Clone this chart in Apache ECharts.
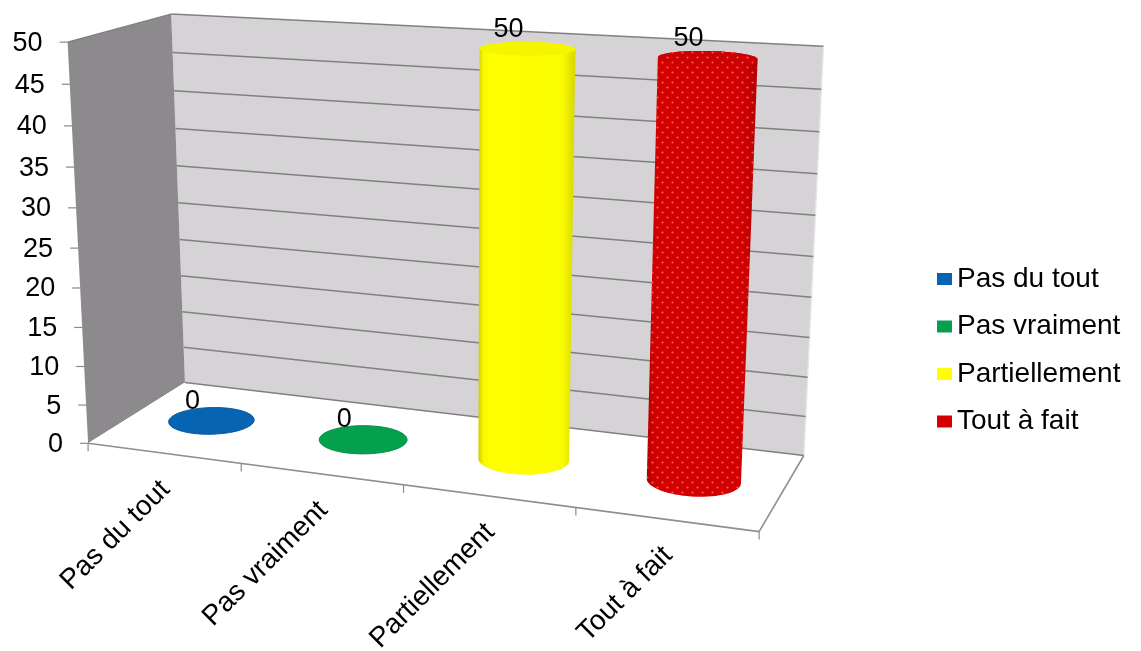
<!DOCTYPE html>
<html>
<head>
<meta charset="utf-8">
<script src="https://cdn.jsdelivr.net/npm/echarts@6/dist/echarts.min.js"></script>
<style>
  html, body { margin: 0; padding: 0; background: #ffffff; }
  #chart { width: 1141px; height: 651px; }
</style>
</head>
<body>
<div id="chart"></div>
<script>
// ---- data ----
const categories = ['Pas du tout', 'Pas vraiment', 'Partiellement', 'Tout à fait'];
const values = [0, 0, 50, 50];
const valueTicks = [0, 5, 10, 15, 20, 25, 30, 35, 40, 45, 50];

// ---- styles ----
const barColors = ['#0764b2', '#04a04e', '#ffff00', '#d40000'];
const barDotted = [false, false, false, true];
const FONT = '"Liberation Sans", Arial, sans-serif';

// Screen anchors of the 3-D plot box:
// [x (0..1 along categories), y (0..1 along values), z (0 front .. 1 back), screenX, screenY]
const boxAnchors = [
  [0, 1, 0, 67.5, 42.5],
  [0, 0, 0, 88, 442.5],
  [0, 1, 1, 171.5, 13.5],
  [0, 0, 1, 185, 383],
  [1, 1, 1, 823.5, 46],
  [1, 0, 1, 804, 455],
  [1, 0, 0, 759, 532],
  [0.25, 0, 0, 241, 463.3],
  [0.5, 0, 0, 404, 484.9],
  [0.75, 0, 0, 576, 507.7],
  [0, 0.5, 0, 78, 248],
  [0, 0.8, 0, 72, 126],
  [1, 0.5, 1, 813, 256.7],
  [0, 0.5, 1, 178, 203.3]
];

// cylinder geometry: centre depth, radius as share of a category band, radius in depth units
const CYL = { zc: 0.5, rx: 0.262, rz: 0.2 };

// ---- perspective camera fitted to the box anchors ----
function solve(A, b) {
  const n = b.length;
  for (let c = 0; c < n; c++) {
    let piv = c;
    for (let r = c + 1; r < n; r++) if (Math.abs(A[r][c]) > Math.abs(A[piv][c])) piv = r;
    [A[c], A[piv]] = [A[piv], A[c]];
    [b[c], b[piv]] = [b[piv], b[c]];
    for (let r = c + 1; r < n; r++) {
      const f = A[r][c] / A[c][c];
      for (let k = c; k < n; k++) A[r][k] -= f * A[c][k];
      b[r] -= f * b[c];
    }
  }
  const x = new Array(n).fill(0);
  for (let r = n - 1; r >= 0; r--) {
    let s = b[r];
    for (let k = r + 1; k < n; k++) s -= A[r][k] * x[k];
    x[r] = s / A[r][r];
  }
  return x;
}
function fitCamera(pts) {
  const n = 11, S = 1000;
  const M = [], rhs = [];
  for (let i = 0; i < n; i++) { M.push(new Array(n).fill(0)); rhs.push(0); }
  pts.forEach(([X, Y, Z, u, v]) => {
    u /= S; v /= S;
    const rows = [
      [[X, Y, Z, 1, 0, 0, 0, 0, -u * X, -u * Y, -u * Z], u],
      [[0, 0, 0, 0, X, Y, Z, 1, -v * X, -v * Y, -v * Z], v]
    ];
    rows.forEach(([a, b]) => {
      for (let i = 0; i < n; i++) {
        for (let j = 0; j < n; j++) M[i][j] += a[i] * a[j];
        rhs[i] += a[i] * b;
      }
    });
  });
  const p = solve(M, rhs);
  return function (X, Y, Z) {
    const w = p[8] * X + p[9] * Y + p[10] * Z + 1;
    return [S * (p[0] * X + p[1] * Y + p[2] * Z + p[3]) / w,
            S * (p[4] * X + p[5] * Y + p[6] * Z + p[7]) / w];
  };
}
const P = fitCamera(boxAnchors);

// grid pixel -> normalised box coordinates
function toBox(params, pt) {
  const cs = params.coordSys;
  return [(pt[0] - cs.x) / cs.width, (cs.y + cs.height - pt[1]) / cs.height];
}

function convexHull(points) {
  const pts = points.slice().sort((a, b) => a[0] - b[0] || a[1] - b[1]);
  const cross = (o, a, b) => (a[0] - o[0]) * (b[1] - o[1]) - (a[1] - o[1]) * (b[0] - o[0]);
  const lower = [], upper = [];
  for (const p of pts) {
    while (lower.length >= 2 && cross(lower[lower.length - 2], lower[lower.length - 1], p) <= 0) lower.pop();
    lower.push(p);
  }
  for (let i = pts.length - 1; i >= 0; i--) {
    const p = pts[i];
    while (upper.length >= 2 && cross(upper[upper.length - 2], upper[upper.length - 1], p) <= 0) upper.pop();
    upper.push(p);
  }
  upper.pop(); lower.pop();
  return lower.concat(upper);
}

// multiply a hex colour's channels by f (f < 1 darkens)
function shade(hex, f) {
  const n = parseInt(hex.slice(1), 16);
  const ch = [(n >> 16) & 255, (n >> 8) & 255, n & 255].map(c => Math.max(0, Math.min(255, Math.round(c * f))));
  return 'rgb(' + ch.join(',') + ')';
}

// dotted texture for patterned bars
function dotPattern() {
  const c = document.createElement('canvas');
  c.width = 10; c.height = 10;
  const g = c.getContext('2d');
  g.fillStyle = 'rgba(255,130,130,0.75)';
  [[2.5, 2.5], [7.5, 7.5]].forEach(([x, y]) => {
    g.beginPath(); g.arc(x, y, 1.1, 0, Math.PI * 2); g.fill();
  });
  return { image: c, repeat: 'repeat' };
}
const DOTS = dotPattern();

// ---- renderers ----
function renderWalls(params, api) {
  const poly = (pts, style) => ({ type: 'polygon', shape: { points: pts }, style });
  const line = (a, b, style) => ({ type: 'line', shape: { x1: a[0], y1: a[1], x2: b[0], y2: b[1] }, style });
  return {
    type: 'group',
    children: [
      poly([P(0, 0, 1), P(0, 1, 1), P(1, 1, 1), P(1, 0, 1)], { fill: '#d5d3d5' }),
      poly([P(0, 0, 0), P(0, 1, 0), P(0, 1, 1), P(0, 0, 1)], { fill: '#8c8a8c' }),
      poly([P(0, 0, 0), P(0, 0, 1), P(1, 0, 1), P(1, 0, 0)], { fill: '#ffffff' }),
      line(P(0, 1, 0), P(0, 1, 1), { stroke: '#7c7a7c', lineWidth: 1.2 }),
      line(P(1, 1, 1), P(1, 0, 1), { stroke: '#e6e6e6', lineWidth: 1.5 }),
      line(P(0, 0, 0), P(1, 0, 0), { stroke: '#8f8f8f', lineWidth: 1.6 }),
      line(P(1, 0, 0), P(1, 0, 1), { stroke: '#8f8f8f', lineWidth: 1.6 })
    ]
  };
}

function renderValueTick(params, api) {
  const t = toBox(params, api.coord([0, api.value(1)]))[1];
  const a = P(0, t, 1), b = P(1, t, 1);
  const f = P(0, t, 0);
  return {
    type: 'group',
    children: [
      { type: 'line', shape: { x1: a[0], y1: a[1], x2: b[0], y2: b[1] },
        style: { stroke: '#808080', lineWidth: 1.5 } },
      { type: 'line', shape: { x1: f[0] - 8, y1: f[1], x2: f[0], y2: f[1] },
        style: { stroke: '#8a8a8a', lineWidth: 1.2 } },
      { type: 'text', x: f[0] - 25, y: f[1] + 1,
        style: { text: String(api.value(1)), fill: '#000000', font: '27px ' + FONT,
                 align: 'right', verticalAlign: 'middle' } }
    ]
  };
}

function renderCategory(params, api) {
  const idx = params.dataIndex;
  const c = api.coord([api.value(0), 0]);
  const half = api.size([1, 0])[0] / 2;
  const sc = toBox(params, c)[0];
  const sl = toBox(params, [c[0] - half, c[1]])[0];
  const sr = toBox(params, [c[0] + half, c[1]])[0];
  const children = [];
  const tick = (s) => {
    const p = P(s, 0, 0);
    children.push({ type: 'line', shape: { x1: p[0], y1: p[1], x2: p[0], y2: p[1] + 8 },
                    style: { stroke: '#8a8a8a', lineWidth: 1.2 } });
  };
  tick(sl);
  if (idx === categories.length - 1) tick(sr);
  const m = P(sc, 0, 0);
  children.push({
    type: 'text', x: m[0] + 2, y: m[1] + 32, rotation: Math.PI / 4,
    style: { text: categories[idx], fill: '#000000', font: '28px ' + FONT,
             align: 'right', verticalAlign: 'middle' }
  });
  return { type: 'group', children };
}

function renderCylinder(seriesIdx) {
  return function (params, api) {
    const color = barColors[seriesIdx];
    const val = api.value(1);
    const top = api.coord([api.value(0), val]);
    const band = api.size([1, 0])[0];
    const cs = params.coordSys;
    const [sc, tv] = toBox(params, top);
    const rs = CYL.rx * band / cs.width;
    const N = 72;
    const ring = (y) => {
      const out = [];
      for (let k = 0; k < N; k++) {
        const a = (k / N) * Math.PI * 2;
        out.push(P(sc + rs * Math.cos(a), y, CYL.zc + CYL.rz * Math.sin(a)));
      }
      return out;
    };
    const topRing = ring(tv);
    const children = [];
    if (tv > 1e-6) {
      const hull = convexHull(ring(0).concat(topRing));
      let minX = Infinity, maxX = -Infinity;
      hull.forEach(p => { minX = Math.min(minX, p[0]); maxX = Math.max(maxX, p[0]); });
      const grad = new echarts.graphic.LinearGradient(minX, 0, maxX, 0, [
        { offset: 0, color: shade(color, 0.8) },
        { offset: 0.05, color: shade(color, 0.97) },
        { offset: 0.12, color: shade(color, 1) },
        { offset: 0.86, color: shade(color, 0.99) },
        { offset: 1, color: shade(color, 0.84) }
      ], true);
      children.push({ type: 'polygon', shape: { points: hull }, style: { fill: grad } });
      if (barDotted[seriesIdx]) {
        children.push({ type: 'polygon', shape: { points: hull }, style: { fill: DOTS } });
      }
      children.push({ type: 'polygon', shape: { points: topRing },
                      style: { fill: shade(color, 0.96) } });
    } else {
      children.push({ type: 'polygon', shape: { points: topRing },
                      style: { fill: color, stroke: shade(color, 0.9), lineWidth: 1 } });
    }
    if (barDotted[seriesIdx]) {
      children.push({ type: 'polygon', shape: { points: topRing }, style: { fill: DOTS } });
    }
    const lp = P(sc, tv, CYL.zc);
    children.push({
      type: 'text', x: lp[0] - 19, y: lp[1] - 6,
      style: { text: String(val), fill: '#000000', font: '27px ' + FONT,
               align: 'center', verticalAlign: 'bottom' }
    });
    return { type: 'group', children };
  };
}

// ---- chart ----
const chart = echarts.init(document.getElementById('chart'), null, { renderer: 'canvas' });
const series = [
  { type: 'custom', name: 'walls', coordinateSystem: 'cartesian2d', silent: true, z: 1,
    data: [[0, 0]], renderItem: renderWalls },
  { type: 'custom', name: 'valueTicks', coordinateSystem: 'cartesian2d', silent: true, z: 2,
    data: valueTicks.map(v => [0, v]), renderItem: renderValueTick },
  { type: 'custom', name: 'categoryTicks', coordinateSystem: 'cartesian2d', silent: true, z: 2,
    data: categories.map((c, i) => [i, 0]), renderItem: renderCategory }
].concat(categories.map((name, i) => ({
  type: 'custom', name, coordinateSystem: 'cartesian2d', z: 3,
  itemStyle: { color: barColors[i] },
  data: [[i, values[i]]],
  renderItem: renderCylinder(i)
})));

chart.setOption({
  animation: false,
  backgroundColor: '#ffffff',
  grid: { left: 88, right: 382, top: 42, bottom: 208 },
  xAxis: { type: 'category', data: categories, show: false, boundaryGap: true },
  yAxis: { type: 'value', min: 0, max: 50, interval: 5, show: false },
  legend: {
    data: categories, orient: 'vertical', left: 937, top: 264, padding: 0,
    icon: 'rect', itemWidth: 15, itemHeight: 12, itemGap: 17.5, selectedMode: false,
    textStyle: { fontFamily: FONT, fontSize: 28, color: '#000000', lineHeight: 30 }
  },
  series
});
</script>
</body>
</html>
